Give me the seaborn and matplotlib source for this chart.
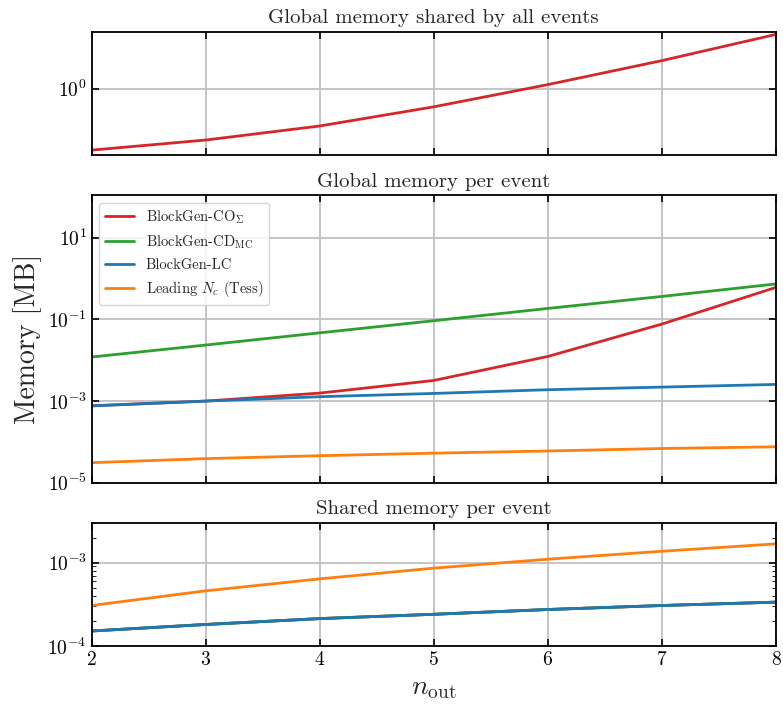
import numpy as np
import pandas as pd
import matplotlib
matplotlib.use("Agg")
import matplotlib.pyplot as plt
import seaborn as sns

# Datos
n_out = [2, 3, 4, 5, 6, 7, 8]

# memoria global compartida por todos los eventos (solo CO_Sigma)
global_shared_co = [0.184, 0.243, 0.358, 0.607, 1.12, 2.17, 4.47]

# memoria global por evento
global_event_co = [7.7e-4, 1.0e-3, 1.57e-3, 3.2e-3, 0.0124, 0.077, 0.61]
global_event_cd = [0.012, 0.0236, 0.047, 0.093, 0.186, 0.366, 0.74]
global_event_lc = [7.6e-4, 1.0e-3, 1.28e-3, 1.54e-3, 1.9e-3, 2.2e-3, 2.56e-3]
global_event_tess = [3.1e-5, 3.9e-5, 4.6e-5, 5.3e-5, 6.0e-5, 6.9e-5, 7.6e-5]

# memoria compartida por evento (los tres BlockGen coinciden)
shared_event_blockgen = [1.52e-4, 1.82e-4, 2.14e-4, 2.41e-4, 2.75e-4, 3.07e-4, 3.37e-4]
shared_event_tess = [3.07e-4, 4.6e-4, 6.4e-4, 8.6e-4, 1.1e-3, 1.37e-3, 1.68e-3]

labels = ["BlockGen-CO$_\\Sigma$", "BlockGen-CD$_\\mathrm{MC}$",
          "BlockGen-LC", "Leading $N_c$ (Tess)"]
colors = ["#d62728", "#2ca02c", "#1f77b4", "#ff7f0e"]

sns.set_style("ticks")
plt.rcParams["font.family"] = ["serif"]
plt.rcParams["font.serif"] = ["cmr10", "DejaVu Serif"]
plt.rcParams["mathtext.fontset"] = "cm"
plt.rcParams["axes.formatter.use_mathtext"] = True
plt.rcParams["axes.unicode_minus"] = False
plt.rcParams["axes.linewidth"] = 1.3
plt.rcParams["axes.edgecolor"] = "black"
for k in ["xtick", "ytick"]:
    plt.rcParams[k + ".direction"] = "in"
    plt.rcParams[k + ".major.size"] = 5
    plt.rcParams[k + ".minor.size"] = 3
    plt.rcParams[k + ".major.width"] = 1.2
    plt.rcParams[k + ".labelsize"] = 14
    plt.rcParams[k + ".color"] = "black"
plt.rcParams["xtick.top"] = True
plt.rcParams["ytick.right"] = True

fig, axes = plt.subplots(3, 1, figsize=(7.83, 7.07), dpi=100, sharex=True,
                         gridspec_kw={"height_ratios": [1, 2.33, 1]})
fig.subplots_adjust(left=0.117, right=0.991, top=0.955, bottom=0.086, hspace=0.225)
ax_top, ax_mid, ax_bot = axes

# Panel superior
sns.lineplot(x=n_out, y=global_shared_co, ax=ax_top, color=colors[0], lw=2)
ax_top.set_yscale("log")
ax_top.set_ylim(0.16, 4.8)
ax_top.yaxis.set_minor_locator(matplotlib.ticker.NullLocator())
ax_top.set_title("Global memory shared by all events", fontsize=15)

# Panel central
series = [global_event_co, global_event_cd, global_event_lc, global_event_tess]
for vals, lab, col in zip(series, labels, colors):
    sns.lineplot(x=n_out, y=vals, ax=ax_mid, color=col, lw=2, label=lab)
ax_mid.set_yscale("log")
ax_mid.set_ylim(1e-5, 1.1e2)
ax_mid.set_yticks([1e-5, 1e-3, 1e-1, 1e1])
ax_mid.yaxis.set_minor_locator(matplotlib.ticker.NullLocator())
ax_mid.set_title("Global memory per event", fontsize=15)
ax_mid.set_ylabel("Memory [MB]", fontsize=20)
ax_mid.legend(loc="upper left", fontsize=10.5, fancybox=True, framealpha=0.8,
              edgecolor="#cccccc")

# Panel inferior
for col in colors[:3]:
    sns.lineplot(x=n_out, y=shared_event_blockgen, ax=ax_bot, color=col, lw=2)
sns.lineplot(x=n_out, y=shared_event_tess, ax=ax_bot, color=colors[3], lw=2)
ax_bot.set_yscale("log")
ax_bot.set_ylim(1e-4, 3e-3)
ax_bot.set_title("Shared memory per event", fontsize=15)
ax_bot.set_xlabel("$n_\\mathrm{out}$", fontsize=20)

for ax in axes:
    ax.set_xlim(2, 8)
    ax.set_xticks(n_out)
    ax.grid(True, which="major", color="#c0c0c0", lw=1.3)
    ax.set_axisbelow(True)
    ax.tick_params(which="both", direction="in", top=True, right=True)

fig.savefig("out.png", dpi=100)
